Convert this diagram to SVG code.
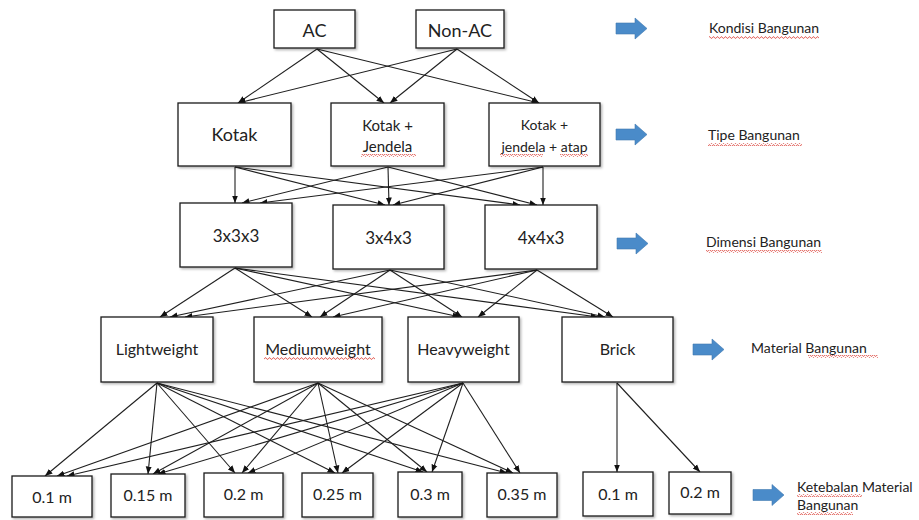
<svg xmlns="http://www.w3.org/2000/svg" width="919" height="520" viewBox="0 0 919 520">
<style>
.box{fill:#fff;stroke:#1a1a1a;stroke-width:1.3;filter:url(#sh)}
.t{font-family:Lato,"Liberation Sans",sans-serif;fill:#222;text-anchor:middle}
.lbl{font-family:Lato,"Liberation Sans",sans-serif;fill:#222;font-size:14px}
.c line{stroke:#1f1f1f;stroke-width:1.1;marker-end:url(#ah)}
.ba{fill:#4a8bc9;stroke:#3f78b0;stroke-width:0.6}
.wv{fill:url(#wave)}
</style>
<defs>
<filter id="sh" x="-10%" y="-10%" width="130%" height="130%">
<feDropShadow dx="1.5" dy="1.5" stdDeviation="1" flood-color="#000" flood-opacity="0.3"/>
</filter>
<marker id="ah" markerUnits="userSpaceOnUse" markerWidth="8" markerHeight="8" viewBox="0 0 8 8" refX="7.5" refY="4" orient="auto">
<path d="M0,1 L7.5,4 L0,7 Z" fill="#111"/>
</marker>
<pattern id="wave" patternUnits="userSpaceOnUse" width="4" height="3">
<path d="M0,2.3 L1,0.8 L2,0.8 L3,2.3 L4,2.3" fill="none" stroke="#d9342b" stroke-width="0.7"/>
</pattern>
<path id="barrow" d="M0,-5.5 H19 V-10.5 L31,0 L19,10.5 V5.5 H0 Z"/>
</defs>
<rect width="919" height="520" fill="#fff"/>

<g class="c" id="connectors">
<line x1="317" y1="49" x2="238" y2="103"/>
<line x1="317" y1="49" x2="384" y2="103"/>
<line x1="317" y1="49" x2="539" y2="103"/>
<line x1="457" y1="49" x2="238" y2="103"/>
<line x1="457" y1="49" x2="390" y2="103"/>
<line x1="457" y1="49" x2="539" y2="103"/>

<line x1="235" y1="167" x2="235" y2="203"/>
<line x1="235" y1="167" x2="385" y2="205"/>
<line x1="235" y1="167" x2="520" y2="205"/>
<line x1="388" y1="167" x2="242" y2="203"/>
<line x1="388" y1="167" x2="389" y2="205"/>
<line x1="388" y1="167" x2="537" y2="205"/>
<line x1="543" y1="167" x2="260" y2="203"/>
<line x1="543" y1="167" x2="393" y2="205"/>
<line x1="543" y1="167" x2="543" y2="205"/>

<line x1="235" y1="268" x2="160" y2="317"/>
<line x1="235" y1="268" x2="312" y2="317"/>
<line x1="235" y1="268" x2="460" y2="317"/>
<line x1="235" y1="268" x2="598" y2="317"/>
<line x1="390" y1="270" x2="170" y2="317"/>
<line x1="390" y1="270" x2="320" y2="317"/>
<line x1="390" y1="270" x2="462" y2="317"/>
<line x1="390" y1="270" x2="605" y2="317"/>
<line x1="537" y1="270" x2="185" y2="317"/>
<line x1="537" y1="270" x2="333" y2="317"/>
<line x1="537" y1="270" x2="478" y2="317"/>
<line x1="537" y1="270" x2="613" y2="317"/>

<line x1="157" y1="383" x2="45" y2="476"/>
<line x1="157" y1="383" x2="148" y2="474"/>
<line x1="157" y1="383" x2="235" y2="473"/>
<line x1="157" y1="383" x2="335" y2="473"/>
<line x1="157" y1="383" x2="423" y2="472"/>
<line x1="157" y1="383" x2="507" y2="473"/>
<line x1="318" y1="383" x2="57" y2="476"/>
<line x1="318" y1="383" x2="153" y2="474"/>
<line x1="318" y1="383" x2="242" y2="473"/>
<line x1="318" y1="383" x2="338" y2="473"/>
<line x1="318" y1="383" x2="427" y2="472"/>
<line x1="318" y1="383" x2="513" y2="473"/>
<line x1="463" y1="383" x2="67" y2="476"/>
<line x1="463" y1="383" x2="158" y2="474"/>
<line x1="463" y1="383" x2="248" y2="473"/>
<line x1="463" y1="383" x2="342" y2="473"/>
<line x1="463" y1="383" x2="432" y2="472"/>
<line x1="463" y1="383" x2="520" y2="473"/>

<line x1="617" y1="383" x2="617" y2="472"/>
<line x1="617" y1="383" x2="700" y2="472"/>
</g>

<g id="ac"><rect class="box" x="274" y="10" width="81" height="38"/><text class="t" x="314.5" y="37" font-size="18">AC</text></g>
<g id="non-ac"><rect class="box" x="416" y="10" width="88" height="38"/><text class="t" x="460" y="37" font-size="18">Non-AC</text></g>

<g id="kotak"><rect class="box" x="178" y="103" width="113" height="63"/><text class="t" x="234.5" y="141" font-size="18">Kotak</text></g>
<g id="kotak-jendela"><rect class="box" x="331" y="103" width="113" height="63"/><text class="t" x="387.5" y="131" font-size="15">Kotak +</text><text class="t" x="387.5" y="152" font-size="15">Jendela</text><rect class="wv" x="361" y="154" width="55" height="3"/></g>
<g id="kotak-jendela-atap"><rect class="box" x="489" y="103" width="111" height="63"/><text class="t" x="544.5" y="130" font-size="14">Kotak +</text><text class="t" x="544.5" y="152" font-size="14">jendela + atap</text><rect class="wv" x="500" y="154" width="43" height="3"/><rect class="wv" x="560" y="154" width="28" height="3"/></g>

<g id="d333"><rect class="box" x="180" y="203" width="112" height="64"/><text class="t" x="236" y="242" font-size="17">3x3x3</text></g>
<g id="d343"><rect class="box" x="333" y="205" width="111" height="64"/><text class="t" x="388.5" y="244" font-size="17">3x4x3</text></g>
<g id="d443"><rect class="box" x="485" y="205" width="112" height="64"/><text class="t" x="541" y="244" font-size="17">4x4x3</text></g>

<g id="lightweight"><rect class="box" x="101" y="317" width="112" height="65"/><text class="t" x="157" y="355" font-size="16">Lightweight</text></g>
<g id="mediumweight"><rect class="box" x="254" y="317" width="128" height="65"/><text class="t" x="318" y="355" font-size="16">Mediumweight</text><rect class="wv" x="264" y="357" width="111" height="3"/></g>
<g id="heavyweight"><rect class="box" x="408" y="317" width="111" height="65"/><text class="t" x="463.5" y="355" font-size="16">Heavyweight</text></g>
<g id="brick"><rect class="box" x="562" y="317" width="111" height="65"/><text class="t" x="617.5" y="355" font-size="16">Brick</text></g>

<g id="t010"><rect class="box" x="12" y="476" width="80" height="41"/><text class="t" x="52" y="503" font-size="16">0.1 m</text></g>
<g id="t015"><rect class="box" x="111" y="474" width="74" height="43"/><text class="t" x="148" y="501" font-size="16">0.15 m</text></g>
<g id="t020"><rect class="box" x="204" y="473" width="79" height="44"/><text class="t" x="243.5" y="500" font-size="16">0.2 m</text></g>
<g id="t025"><rect class="box" x="302" y="473" width="71" height="44"/><text class="t" x="337.5" y="500" font-size="16">0.25 m</text></g>
<g id="t030"><rect class="box" x="398" y="472" width="64" height="45"/><text class="t" x="430" y="500" font-size="16">0.3 m</text></g>
<g id="t035"><rect class="box" x="487" y="473" width="70" height="44"/><text class="t" x="522" y="500" font-size="16">0.35 m</text></g>
<g id="t010b"><rect class="box" x="583" y="472" width="70" height="44"/><text class="t" x="618" y="500" font-size="16">0.1 m</text></g>
<g id="t020b"><rect class="box" x="669" y="472" width="62" height="42"/><text class="t" x="700" y="498" font-size="16">0.2 m</text></g>

<g id="legend">
<use href="#barrow" class="ba" x="616" y="28.5"/>
<text class="lbl" x="709" y="33">Kondisi Bangunan</text>
<rect class="wv" x="709" y="36" width="110" height="3"/>
<use href="#barrow" class="ba" x="616" y="134.5"/>
<text class="lbl" x="708" y="140">Tipe Bangunan</text>
<rect class="wv" x="708" y="143" width="94" height="3"/>
<use href="#barrow" class="ba" x="617" y="243.5"/>
<text class="lbl" x="706" y="247">Dimensi Bangunan</text>
<rect class="wv" x="706" y="250" width="116" height="3"/>
<use href="#barrow" class="ba" x="693" y="349.5"/>
<text class="lbl" x="751" y="353">Material Bangunan</text>
<rect class="wv" x="808" y="355" width="70" height="3"/>
<use href="#barrow" class="ba" x="753" y="495"/>
<text class="lbl" x="797" y="492">Ketebalan Material</text>
<rect class="wv" x="797" y="494" width="65" height="3"/>
<text class="lbl" x="797" y="510">Bangunan</text>
<rect class="wv" x="797" y="512" width="56" height="3"/>
</g>
</svg>
